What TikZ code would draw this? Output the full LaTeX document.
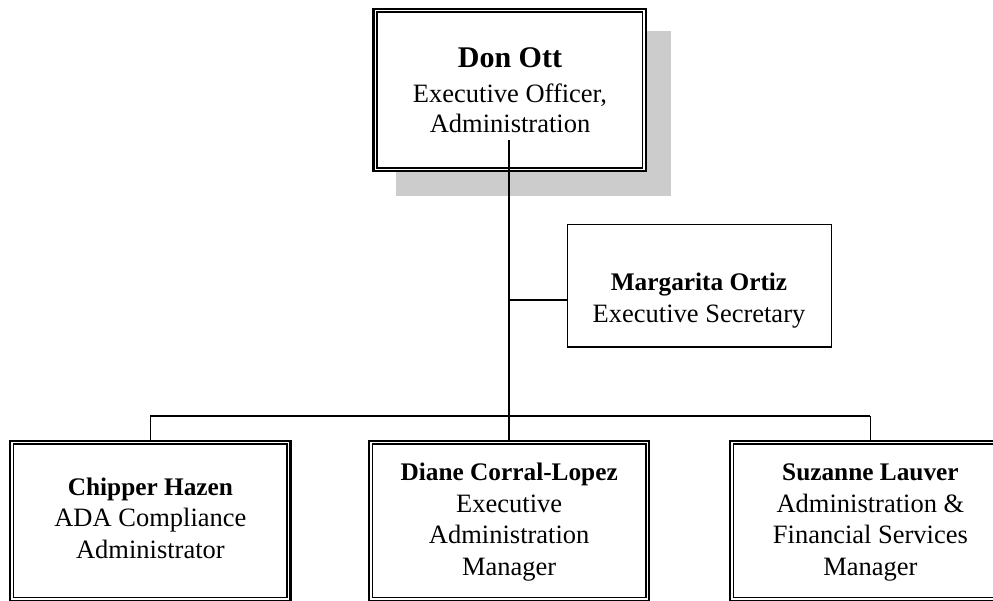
\documentclass[tikz,border=0pt]{standalone}
\usepackage{fontspec}
\setmainfont{Liberation Serif}
\begin{document}
\begin{tikzpicture}[x=1pt,y=-1pt,
  outerbox/.style={draw, line width=2.3pt, fill=white, inner sep=0pt},
  innerline/.style={draw, line width=1.4pt},
  secbox/.style={draw, line width=1.5pt, fill=white, inner sep=0pt},
  shadow/.style={fill=black!20, draw=none},
  txt/.style={align=center, inner sep=0pt, anchor=base, font=\fontsize{26.5}{31.5}\selectfont},
  link/.style={line width=1.4pt},
  mainlink/.style={line width=2pt}]
\newcommand{\nmfont}{\bfseries\fontsize{25.3}{31.5}\selectfont}
\useasboundingbox (0,0) rectangle (993,600);
\clip (0,0) rectangle (993,600);
% shadow
\path[shadow] (396,31) rectangle (671,196);
% top box
\node[outerbox, minimum width=272.5pt, minimum height=162.6pt] (top) at (509.75,90) {};
\draw[innerline] ([shift={(4.5,4.5)}]top.north west) rectangle ([shift={(-4.5,-4.5)}]top.south east);
\node[txt, font=\fontsize{26.5}{30}\selectfont] (toptxt) at (510,132) {{\bfseries\fontsize{30}{30}\selectfont Don Ott}\\[5pt]Executive Officer,\\Administration};
% secretary
\node[secbox, minimum width=264pt, minimum height=122.7pt] (sec) at (699.5,285.65) {};
\node[txt] (sectxt) at (699,322) {{\nmfont Margarita Ortiz}\\Executive Secretary};
% bottom boxes
\node[outerbox, minimum width=280.2pt, minimum height=160pt] (chip) at (150.4,520.7) {};
\draw[innerline] ([shift={(4.5,4.5)}]chip.north west) rectangle ([shift={(-4.5,-4.5)}]chip.south east);
\node[txt] (chiptxt) at (150.4,558) {{\nmfont Chipper Hazen}\\ADA Compliance\\Administrator};
\node[outerbox, minimum width=280.2pt, minimum height=160pt] (diane) at (509.2,520.7) {};
\draw[innerline] ([shift={(4.5,4.5)}]diane.north west) rectangle ([shift={(-4.5,-4.5)}]diane.south east);
\node[txt] (dianetxt) at (509.2,575) {{\nmfont Diane Corral-Lopez}\\Executive\\Administration\\Manager};
\node[outerbox, minimum width=280.2pt, minimum height=160pt] (suz) at (870.4,520.7) {};
\draw[innerline] ([shift={(4.5,4.5)}]suz.north west) rectangle ([shift={(-4.5,-4.5)}]suz.south east);
\node[txt] (suztxt) at (870.4,575) {{\nmfont Suzanne Lauver}\\Administration \&\\Financial Services\\Manager};
% connectors
\coordinate (start) at (509.2,140);
\coordinate (jsec) at (509.2,300);
\coordinate (bar) at (509.2,416);
\draw[mainlink] (start) -- (diane.north);
\draw[link] (jsec) -- (jsec -| sec.west);
\draw[link] (bar -| chip.north) -- (bar -| suz.north);
\draw[link] (bar -| chip.north) -- (chip.north);
\draw[link] (bar -| suz.north) -- (suz.north);
\end{tikzpicture}
\end{document}
